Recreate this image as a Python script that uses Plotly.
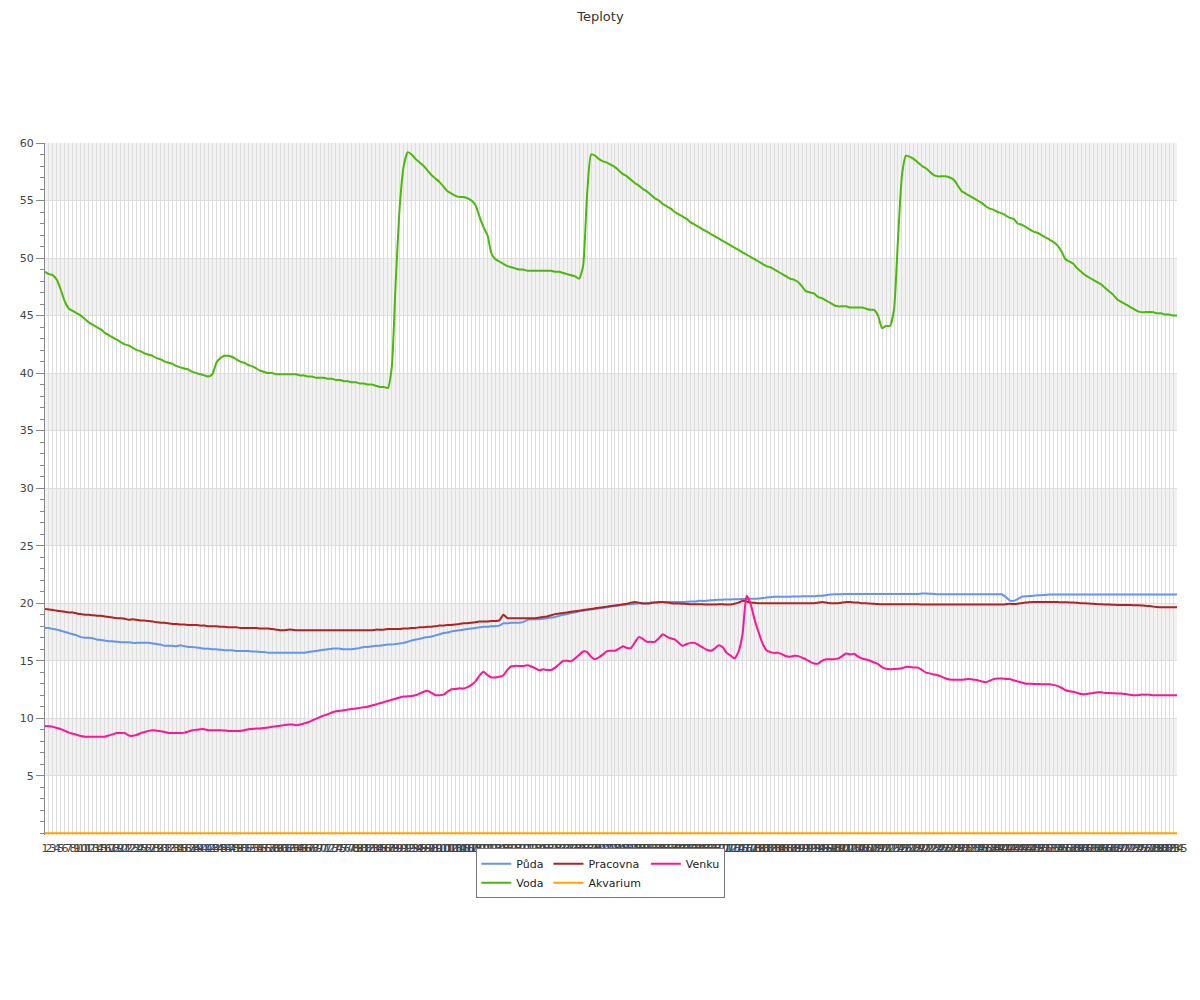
import plotly.graph_objects as go

kategorie = [str(i) for i in range(1, 286)]

puda = [
    17.85, 17.85, 17.75, 17.7, 17.6, 17.5, 17.4, 17.3, 17.2, 17.05,
    17.0, 17.0, 16.95, 16.85, 16.8, 16.75, 16.7, 16.7, 16.65, 16.6,
    16.6, 16.6, 16.55, 16.55, 16.55, 16.55, 16.55, 16.5, 16.45, 16.4,
    16.3, 16.3, 16.3, 16.25, 16.35, 16.25, 16.2, 16.2, 16.15, 16.1,
    16.05, 16.05, 16.0, 16.0, 15.95, 15.9, 15.9, 15.9, 15.85, 15.85,
    15.85, 15.85, 15.8, 15.8, 15.75, 15.75, 15.7, 15.7, 15.7, 15.7,
    15.7, 15.7, 15.7, 15.7, 15.7, 15.7, 15.75, 15.8, 15.85, 15.9,
    15.95, 16.0, 16.05, 16.05, 16.05, 16.0, 16.0, 16.0, 16.05, 16.1,
    16.2, 16.2, 16.25, 16.3, 16.3, 16.35, 16.4, 16.4, 16.45, 16.5,
    16.55, 16.65, 16.75, 16.85, 16.9, 17.0, 17.05, 17.1, 17.2, 17.3,
    17.4, 17.45, 17.55, 17.6, 17.65, 17.7, 17.75, 17.8, 17.85, 17.9,
    17.95, 17.95, 18.0, 18.0, 18.05, 18.25, 18.25, 18.3, 18.3, 18.3,
    18.35, 18.55, 18.6, 18.6, 18.6, 18.65, 18.7, 18.75, 18.8, 18.9,
    19.0, 19.05, 19.15, 19.2, 19.3, 19.35, 19.4, 19.45, 19.5, 19.55,
    19.6, 19.65, 19.7, 19.75, 19.8, 19.85, 19.9, 19.9, 19.95, 20.0,
    20.0, 20.0, 20.05, 20.05, 20.05, 20.1, 20.1, 20.1, 20.1, 20.1,
    20.1, 20.12, 20.15, 20.15, 20.2, 20.2, 20.22, 20.25, 20.28, 20.3,
    20.3, 20.32, 20.32, 20.34, 20.35, 20.36, 20.37, 20.38, 20.38, 20.4,
    20.45, 20.5, 20.52, 20.55, 20.55, 20.55, 20.56, 20.57, 20.58, 20.58,
    20.6, 20.6, 20.6, 20.6, 20.64, 20.65, 20.7, 20.75, 20.78, 20.78,
    20.78, 20.8, 20.8, 20.8, 20.8, 20.8, 20.8, 20.8, 20.8, 20.8,
    20.8, 20.8, 20.8, 20.8, 20.8, 20.8, 20.8, 20.8, 20.8, 20.8,
    20.84, 20.84, 20.82, 20.8, 20.78, 20.78, 20.78, 20.78, 20.78, 20.78,
    20.78, 20.78, 20.78, 20.78, 20.78, 20.78, 20.78, 20.78, 20.78, 20.78,
    20.78, 20.55, 20.25, 20.2, 20.35, 20.55, 20.6, 20.62, 20.65, 20.68,
    20.7, 20.72, 20.75, 20.75, 20.75, 20.75, 20.75, 20.75, 20.75, 20.75,
    20.75, 20.75, 20.75, 20.75, 20.75, 20.75, 20.75, 20.75, 20.75, 20.75,
    20.75, 20.75, 20.75, 20.75, 20.75, 20.75, 20.75, 20.75, 20.75, 20.75,
    20.75, 20.75, 20.75, 20.75, 20.75,
]

voda = [
    48.8, 48.6, 48.5, 48.1, 47.2, 46.2, 45.6, 45.4, 45.2, 45.0,
    44.7, 44.4, 44.2, 44.0, 43.8, 43.5, 43.3, 43.1, 42.9, 42.7,
    42.5, 42.4, 42.2, 42.0, 41.9, 41.7, 41.6, 41.5, 41.3, 41.2,
    41.0, 40.9, 40.8, 40.6, 40.5, 40.4, 40.3, 40.1, 40.0, 39.9,
    39.8, 39.7, 39.9, 40.9, 41.3, 41.5, 41.5, 41.4, 41.2, 41.0,
    40.9, 40.7, 40.6, 40.4, 40.2, 40.1, 40.0, 40.0, 39.9, 39.9,
    39.9, 39.9, 39.9, 39.9, 39.8, 39.8, 39.7, 39.7, 39.6, 39.6,
    39.6, 39.5, 39.5, 39.4, 39.4, 39.3, 39.3, 39.2, 39.2, 39.1,
    39.1, 39.0, 39.0, 38.9, 38.8, 38.8, 38.7, 40.5, 48.0, 54.5,
    58.0, 59.2, 59.0, 58.6, 58.3, 58.0, 57.6, 57.2, 56.9, 56.6,
    56.2, 55.8, 55.6, 55.4, 55.3, 55.3, 55.2, 55.0, 54.6, 53.6,
    52.7, 52.0, 50.4, 49.9, 49.7, 49.5, 49.3, 49.2, 49.1, 49.0,
    49.0, 48.9, 48.9, 48.9, 48.9, 48.9, 48.9, 48.9, 48.8, 48.8,
    48.7, 48.6, 48.5, 48.4, 48.2, 49.3, 55.5, 59.0, 58.9, 58.6,
    58.4, 58.3, 58.1, 57.9, 57.6, 57.3, 57.1, 56.8, 56.5, 56.3,
    56.0, 55.8, 55.5, 55.2, 55.0, 54.7, 54.5, 54.3, 54.0, 53.8,
    53.6, 53.4, 53.1, 52.9, 52.7, 52.5, 52.3, 52.1, 51.9, 51.7,
    51.5, 51.3, 51.1, 50.9, 50.7, 50.5, 50.3, 50.1, 49.9, 49.7,
    49.5, 49.3, 49.2, 49.0, 48.8, 48.6, 48.4, 48.2, 48.1, 47.9,
    47.5, 47.1, 47.0, 46.9, 46.6, 46.5, 46.3, 46.1, 45.9, 45.8,
    45.8, 45.8, 45.7, 45.7, 45.7, 45.7, 45.6, 45.5, 45.5, 45.0,
    43.9, 44.1, 44.1, 45.5, 51.6, 57.2, 58.9, 58.8, 58.6, 58.3,
    58.0, 57.8, 57.5, 57.2, 57.1, 57.1, 57.1, 57.0, 56.8, 56.3,
    55.8, 55.6, 55.4, 55.2, 55.0, 54.8, 54.5, 54.3, 54.2, 54.0,
    53.9, 53.7, 53.5, 53.4, 53.0, 52.9, 52.7, 52.5, 52.3, 52.2,
    52.0, 51.8, 51.6, 51.4, 51.1, 50.6, 49.9, 49.7, 49.5, 49.1,
    48.8, 48.5, 48.3, 48.1, 47.9, 47.7, 47.4, 47.1, 46.8, 46.4,
    46.2, 46.0, 45.8, 45.6, 45.4, 45.3, 45.3, 45.3, 45.3, 45.2,
    45.2, 45.1, 45.1, 45.0, 45.0,
]

pracovna = [
    19.5, 19.45, 19.4, 19.35, 19.3, 19.25, 19.2, 19.2, 19.1, 19.05,
    19.0, 19.0, 18.95, 18.9, 18.9, 18.85, 18.8, 18.75, 18.7, 18.7,
    18.65, 18.55, 18.6, 18.55, 18.5, 18.5, 18.45, 18.4, 18.35, 18.3,
    18.3, 18.25, 18.2, 18.2, 18.15, 18.15, 18.1, 18.1, 18.1, 18.05,
    18.05, 18.0, 18.0, 18.0, 17.95, 17.95, 17.9, 17.9, 17.9, 17.85,
    17.85, 17.85, 17.85, 17.85, 17.8, 17.8, 17.8, 17.75, 17.7, 17.65,
    17.65, 17.7, 17.7, 17.65, 17.65, 17.65, 17.65, 17.65, 17.65, 17.65,
    17.65, 17.65, 17.65, 17.65, 17.65, 17.65, 17.65, 17.65, 17.65, 17.65,
    17.65, 17.65, 17.65, 17.7, 17.7, 17.7, 17.75, 17.75, 17.75, 17.75,
    17.8, 17.8, 17.85, 17.85, 17.9, 17.9, 17.95, 17.95, 18.0, 18.05,
    18.05, 18.1, 18.1, 18.15, 18.2, 18.25, 18.25, 18.3, 18.35, 18.4,
    18.4, 18.4, 18.45, 18.45, 18.5, 19.0, 18.7, 18.7, 18.7, 18.7,
    18.7, 18.7, 18.7, 18.7, 18.75, 18.8, 18.85, 18.95, 19.05, 19.1,
    19.15, 19.2, 19.25, 19.3, 19.35, 19.4, 19.45, 19.5, 19.55, 19.6,
    19.65, 19.7, 19.75, 19.8, 19.85, 19.9, 19.95, 20.05, 20.1, 20.05,
    19.97, 19.97, 20.0, 20.05, 20.1, 20.1, 20.05, 20.0, 19.97, 19.97,
    19.95, 19.93, 19.9, 19.9, 19.9, 19.9, 19.88, 19.88, 19.88, 19.9,
    19.9, 19.88, 19.88, 19.95, 20.05, 20.2, 20.15, 20.05, 20.03, 20.0,
    20.0, 20.0, 20.0, 20.0, 20.0, 20.0, 20.0, 20.0, 20.0, 20.0,
    20.0, 20.0, 20.0, 20.0, 20.05, 20.1, 20.05, 20.0, 20.0, 20.0,
    20.05, 20.1, 20.1, 20.05, 20.05, 20.0, 20.0, 19.97, 19.95, 19.92,
    19.9, 19.9, 19.9, 19.9, 19.9, 19.9, 19.9, 19.9, 19.9, 19.9,
    19.88, 19.88, 19.88, 19.88, 19.88, 19.88, 19.88, 19.88, 19.88, 19.88,
    19.88, 19.88, 19.88, 19.88, 19.88, 19.88, 19.88, 19.88, 19.88, 19.88,
    19.88, 19.9, 19.95, 19.93, 19.95, 20.0, 20.05, 20.08, 20.1, 20.1,
    20.1, 20.1, 20.1, 20.1, 20.1, 20.08, 20.08, 20.07, 20.05, 20.03,
    20.0, 20.0, 19.97, 19.95, 19.92, 19.9, 19.88, 19.88, 19.86, 19.85,
    19.85, 19.85, 19.84, 19.83, 19.82, 19.8, 19.78, 19.75, 19.7, 19.67,
    19.65, 19.65, 19.65, 19.65, 19.65,
]

akvarium = [
    0, 0, 0, 0, 0, 0, 0, 0, 0, 0, 0, 0, 0, 0, 0, 0, 0, 0, 0, 0,
    0, 0, 0, 0, 0, 0, 0, 0, 0, 0, 0, 0, 0, 0, 0, 0, 0, 0, 0, 0,
    0, 0, 0, 0, 0, 0, 0, 0, 0, 0, 0, 0, 0, 0, 0, 0, 0, 0, 0, 0,
    0, 0, 0, 0, 0, 0, 0, 0, 0, 0, 0, 0, 0, 0, 0, 0, 0, 0, 0, 0,
    0, 0, 0, 0, 0, 0, 0, 0, 0, 0, 0, 0, 0, 0, 0, 0, 0, 0, 0, 0,
    0, 0, 0, 0, 0, 0, 0, 0, 0, 0, 0, 0, 0, 0, 0, 0, 0, 0, 0, 0,
    0, 0, 0, 0, 0, 0, 0, 0, 0, 0, 0, 0, 0, 0, 0, 0, 0, 0, 0, 0,
    0, 0, 0, 0, 0, 0, 0, 0, 0, 0, 0, 0, 0, 0, 0, 0, 0, 0, 0, 0,
    0, 0, 0, 0, 0, 0, 0, 0, 0, 0, 0, 0, 0, 0, 0, 0, 0, 0, 0, 0,
    0, 0, 0, 0, 0, 0, 0, 0, 0, 0, 0, 0, 0, 0, 0, 0, 0, 0, 0, 0,
    0, 0, 0, 0, 0, 0, 0, 0, 0, 0, 0, 0, 0, 0, 0, 0, 0, 0, 0, 0,
    0, 0, 0, 0, 0, 0, 0, 0, 0, 0, 0, 0, 0, 0, 0, 0, 0, 0, 0, 0,
    0, 0, 0, 0, 0, 0, 0, 0, 0, 0, 0, 0, 0, 0, 0, 0, 0, 0, 0, 0,
    0, 0, 0, 0, 0, 0, 0, 0, 0, 0, 0, 0, 0, 0, 0, 0, 0, 0, 0, 0,
    0, 0, 0, 0, 0,
]

venku = [
    9.33, 9.3, 9.25, 9.15, 9.05, 8.9, 8.75, 8.65, 8.55, 8.45,
    8.4, 8.4, 8.4, 8.4, 8.4, 8.4, 8.5, 8.6, 8.72, 8.72,
    8.72, 8.5, 8.47, 8.55, 8.7, 8.8, 8.9, 8.96, 8.92, 8.87,
    8.8, 8.72, 8.72, 8.72, 8.72, 8.75, 8.85, 8.95, 9.0, 9.05,
    9.05, 8.96, 8.96, 8.96, 8.96, 8.93, 8.9, 8.9, 8.9, 8.9,
    8.95, 9.04, 9.06, 9.1, 9.1, 9.15, 9.2, 9.25, 9.3, 9.35,
    9.4, 9.45, 9.45, 9.4, 9.45, 9.55, 9.65, 9.8, 9.95, 10.1,
    10.25, 10.35, 10.5, 10.6, 10.65, 10.7, 10.75, 10.8, 10.85, 10.9,
    10.95, 11.0, 11.1, 11.2, 11.3, 11.4, 11.5, 11.6, 11.7, 11.8,
    11.88, 11.9, 11.94, 12.0, 12.15, 12.3, 12.38, 12.2, 12.0, 12.0,
    12.05, 12.3, 12.52, 12.55, 12.6, 12.58, 12.7, 12.9, 13.2, 13.7,
    14.03, 13.75, 13.54, 13.55, 13.6, 13.74, 14.2, 14.52, 14.55, 14.55,
    14.55, 14.6, 14.5, 14.35, 14.17, 14.25, 14.2, 14.2, 14.4, 14.7,
    14.98, 15.0, 14.96, 15.2, 15.5, 15.8, 15.75, 15.35, 15.13, 15.3,
    15.55, 15.83, 15.86, 15.86, 16.05, 16.26, 16.1, 16.1, 16.6, 17.07,
    16.9, 16.64, 16.64, 16.64, 16.95, 17.3, 17.1, 16.95, 16.85, 16.55,
    16.29, 16.45, 16.55, 16.55, 16.35, 16.15, 15.95, 15.86, 16.05, 16.35,
    16.2, 15.68, 15.45, 15.19, 15.8, 17.3, 20.64, 19.97, 18.6, 17.5,
    16.5, 15.91, 15.75, 15.68, 15.68, 15.55, 15.38, 15.35, 15.42, 15.4,
    15.25, 15.1, 14.9, 14.75, 14.75, 15.0, 15.13, 15.13, 15.13, 15.2,
    15.4, 15.62, 15.55, 15.6, 15.35, 15.19, 15.1, 15.0, 14.85, 14.7,
    14.45, 14.3, 14.26, 14.28, 14.3, 14.35, 14.46, 14.45, 14.4, 14.4,
    14.2, 13.97, 13.9, 13.8, 13.74, 13.6, 13.45, 13.36, 13.35, 13.35,
    13.35, 13.38, 13.4, 13.35, 13.3, 13.2, 13.13, 13.25, 13.4, 13.45,
    13.45, 13.42, 13.4, 13.3, 13.2, 13.1, 13.0, 13.0, 12.98, 12.98,
    12.96, 12.96, 12.96, 12.9, 12.81, 12.65, 12.45, 12.35, 12.3, 12.2,
    12.1, 12.09, 12.15, 12.2, 12.26, 12.25, 12.2, 12.2, 12.18, 12.15,
    12.15, 12.1, 12.05, 12.0, 12.0, 12.05, 12.05, 12.05, 12.0, 12.0,
    12.0, 12.0, 12.0, 12.0, 12.0,
]

for s in (puda, voda, pracovna, akvarium, venku):
    assert len(s) == len(kategorie), len(s)

y_ticks = [5, 10, 15, 20, 25, 30, 35, 40, 45, 50, 55, 60]
bands = [(5, 10), (15, 20), (25, 30), (35, 40), (45, 50), (55, 60)]

series = [
    ("Půda", puda, "#6495ed", "g1"),
    ("Voda", voda, "#4cb90a", "g1"),
    ("Pracovna", pracovna, "#b22222", "g2"),
    ("Akvarium", akvarium, "#ffa500", "g2"),
    ("Venku", venku, "#ff1493", "g3"),
]

FONT = "DejaVu Sans"
fig = go.Figure()
for name, vals, color, grp in series:
    fig.add_trace(go.Scatter(
        x=kategorie, y=vals, name=name, mode="lines", legendgroup=grp,
        line=dict(color=color, width=2, shape="spline", smoothing=0.5),
    ))

for lo, hi in bands:
    fig.add_shape(type="rect", xref="paper", x0=0, x1=1, yref="y", y0=lo, y1=hi,
                  fillcolor="#f2f2f2", line=dict(width=0), layer="below")

# page body has an 8px margin, so the figure is sized/shifted to compensate
fig.update_layout(
    width=1192, height=992,
    margin=dict(l=32, r=20, t=135, b=165),
    paper_bgcolor="white", plot_bgcolor="white",
    font=dict(family=FONT, size=11, color="#333"),
    title=dict(text="Teploty", x=0.497, xanchor="center", y=0.9919, yanchor="middle",
               yref="container", font=dict(family=FONT, size=13, color="#333")),
    showlegend=True,
    legend=dict(orientation="h", traceorder="grouped", tracegroupgap=0,
                x=0.491, xanchor="center", y=-0.019, yanchor="top",
                bordercolor="#777", borderwidth=1, bgcolor="white",
                itemwidth=30, font=dict(family=FONT, size=11, color="#222")),
    xaxis=dict(type="category", range=[0, len(kategorie) - 1],
               tickmode="linear", tick0=0, dtick=1, tickangle=0,
               showgrid=True, gridcolor="#dddddd", gridwidth=1,
               showline=False, zeroline=False,
               ticks="outside", ticklen=3, tickcolor="rgba(0,0,0,0)",
               tickfont=dict(family=FONT, size=11, color="#444")),
    yaxis=dict(range=[-0.15, 60], tickmode="array", tickvals=y_ticks,
               ticktext=[str(t) for t in y_ticks],
               showgrid=True, gridcolor="#dddddd", gridwidth=1,
               zeroline=False, showline=True, linecolor="#888", linewidth=1,
               ticks="outside", ticklen=8, tickcolor="#888",
               minor=dict(tickmode="linear", tick0=0, dtick=1, ticks="outside",
                          ticklen=4, tickcolor="#888", showgrid=False),
               tickfont=dict(family=FONT, size=11, color="#444")),
)

fig.write_html("out.html")
